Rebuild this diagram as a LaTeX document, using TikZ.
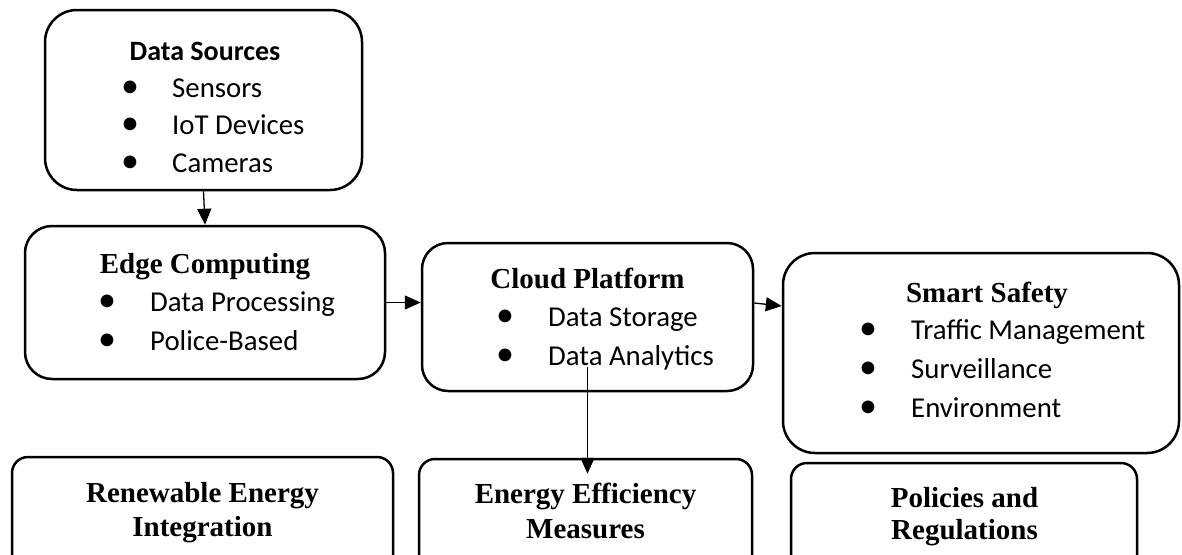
\documentclass[tikz,border=0pt]{standalone}
\usepackage{fontspec}
\setmainfont{Liberation Serif}
\newfontfamily\calfont{Carlito}
\usetikzlibrary{arrows.meta}
\begin{document}
\begin{tikzpicture}[x=1pt,y=-1pt,
  box/.style={draw, line width=2.5pt, inner sep=0pt},
  arr/.style={line width=1.3pt, -{Triangle[length=16pt,width=14pt]}},
  head/.style={inner sep=0pt, anchor=base, font=\fontsize{29}{34}\selectfont\bfseries},
  calhead/.style={inner sep=0pt, anchor=base, font=\fontsize{28}{34}\selectfont\calfont\bfseries},
  item/.style={inner sep=0pt, anchor=base west, font=\fontsize{28.8}{34}\selectfont\calfont},
  bul/.style={inner sep=0pt, anchor=center, font=\fontsize{36}{36}\selectfont\calfont}
]
\clip (0,0) rectangle (1182,554);
\fill[white] (0,0) rectangle (1182,554);

% boxes
\node[box, rounded corners=32pt, minimum width=317pt, minimum height=180pt] (ds) at (203.5,100) {};
\node[box, rounded corners=27pt, minimum width=360pt, minimum height=153pt] (ec) at (205,302.5) {};
\node[box, rounded corners=26pt, minimum width=331pt, minimum height=148pt] (cp) at (587.5,317) {};
\node[box, rounded corners=32pt, minimum width=396pt, minimum height=200pt] (ss) at (981,353) {};
\node[box, rounded corners=16pt, minimum width=381pt, minimum height=143pt] (re) at (202.5,528.5) {};
\node[box, rounded corners=16pt, minimum width=333pt, minimum height=141pt] (ee) at (585.5,529.5) {};
\node[box, rounded corners=16pt, minimum width=346pt, minimum height=137pt] (pr) at (964,531.5) {};

% Data Sources
\node[calhead] (dsT) at (205,60) {Data Sources};
\node[bul] (dsB1) at (130,89) {•};
\node[item] (ds1) at (172,97) {Sensors};
\node[bul] (dsB2) at (130,126) {•};
\node[item] (ds2) at (172,134) {IoT Devices};
\node[bul] (dsB3) at (130,164) {•};
\node[item] (ds3) at (172,172) {Cameras};

% Edge Computing
\node[head] (ecT) at (205,273) {Edge Computing};
\node[bul] (ecB1) at (107,303) {•};
\node[item] (ec1) at (150,311) {Data Processing};
\node[bul] (ecB2) at (107,342) {•};
\node[item] (ec2) at (150,350) {Police-Based};

% Cloud Platform
\node[head] (cpT) at (587.5,288) {Cloud Platform};
\node[bul] (cpB1) at (505,318) {•};
\node[item] (cp1) at (548,326) {Data Storage};
\node[bul] (cpB2) at (505,357) {•};
\node[item] (cp2) at (548,365) {Data Analytics};

% Smart Safety
\node[head] (ssT) at (987,302) {Smart Safety};
\node[bul] (ssB1) at (868,331) {•};
\node[item] (ss1) at (911,339) {Traffic Management};
\node[bul] (ssB2) at (868,370) {•};
\node[item] (ss2) at (911,378) {Surveillance};
\node[bul] (ssB3) at (868,409) {•};
\node[item] (ss3) at (911,417) {Environment};

% bottom row
\node[head] (reT1) at (202.5,502) {Renewable Energy};
\node[head] (reT2) at (202.5,536) {Integration};
\node[head] (eeT1) at (585.5,503) {Energy Efficiency};
\node[head] (eeT2) at (585.5,538) {Measures};
\node[head] (prT1) at (964.5,507) {Policies and};
\node[head] (prT2) at (964.5,539) {Regulations};

% connectors
\draw[arr] (ds.south) -- (ec.north);
\draw[arr] (ec.east) -- (ec.east -| cp.west);
\draw[arr] ([yshift=14pt]cp.east) -- ([yshift=47pt]ss.west);
\coordinate (eetip) at ([yshift=-16pt]ee.north);
\draw[arr] ([yshift=-50pt]cp.center) -- (cp.center |- eetip);
\end{tikzpicture}
\end{document}
